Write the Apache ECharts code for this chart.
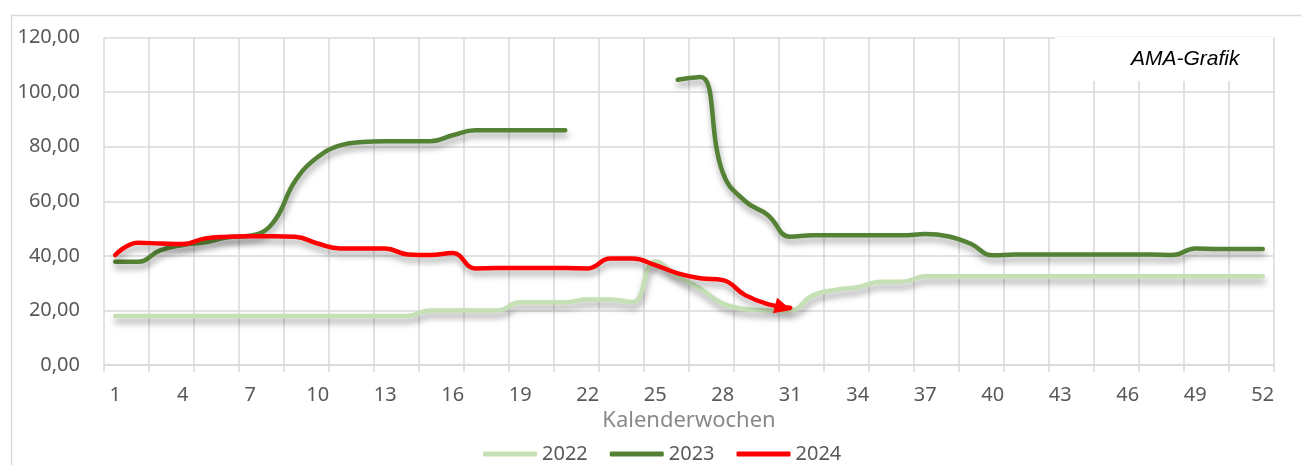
<!DOCTYPE html>
<html>
<head>
<meta charset="utf-8">
<script src="https://cdn.jsdelivr.net/npm/echarts@6/dist/echarts.min.js"></script>
<style>
    html, body { margin: 0; padding: 0; background: #fff; }
    #main { width: 1301px; height: 465px; }
</style>
</head>
<body>
<div id="main"></div>
<script>
// Kalenderwochen 1..52
let weeks = [];
for (let i = 1; i <= 52; i++) weeks.push(String(i));

let values2022 = [18, 18, 18, 18, 18, 18, 18, 18, 18, 18, 18, 18, 18, 18,
    20, 20, 20, 20, 23, 23, 23, 24, 24, 23, 38, 32.5, 28, 22.5, 20.5, 20, 20,
    25.5, 27.5, 28.5, 30.5, 30.5, 32.5, 32.5, 32.5, 32.5, 32.5, 32.5, 32.5, 32.5,
    32.5, 32.5, 32.5, 32.5, 32.5, 32.5, 32.5, 32.5];

let values2023 = [37.8, 37.8, 42, 44, 45, 46.8, 47.4, 52, 67.5, 76.2, 80.5, 81.7, 82, 82,
    82, 84.2, 86, 86, 86, 86, 86, null, null, null, null, 104.5, 105.5, 70.5, 60, 55, 47,
    47.5, 47.5, 47.5, 47.5, 47.5, 48, 47.2, 44.5, 40.2, 40.5, 40.5, 40.5, 40.5, 40.5,
    40.5, 40.5, 40.3, 42.7, 42.5, 42.5, 42.5];

let values2024 = [40.3, 44.8, 44.5, 44.3, 46.4, 47, 47.2, 47.2, 47, 44.5, 42.7, 42.7, 42.7,
    40.5, 40.3, 41, 35.4, 35.5, 35.5, 35.5, 35.5, 35.4, 39, 39, 36.6, 33.6, 31.8, 31.1,
    25.6, 22.3, 21];

let yMin = 0, yMax = 120, yStep = 20;

(function() {
    let chart = echarts.init(document.getElementById('main'));
    let labelFont = '"Noto Sans", sans-serif';
    let gridColor = '#d9d9d9';

    function lineShadow(color) {
        return {
            color: color,
            width: 4.5,
            shadowColor: 'rgba(0,0,0,0.35)',
            shadowBlur: 6,
            shadowOffsetX: 1,
            shadowOffsetY: 5,
            cap: 'round'
        };
    }

    // letzter Punkt 2024 bekommt den Pfeil
    let data2024 = values2024.map(function(v, i) {
        if (i === values2024.length - 1) {
            return {
                value: v,
                symbol: 'triangle',
                symbolSize: [16, 17],
                symbolRotate: -105,
                symbolOffset: [-7, 0],
                itemStyle: {color: '#ff0000'}
            };
        }
        return v;
    });

    let smoothness = 0.45;

    let option = {
        animation: false,
        backgroundColor: '#fff',
        grid: {left: 104, right: 27, top: 37.5, bottom: 100, containLabel: false},
        legend: {
            left: 478,
            top: 439,
            icon: 'roundRect',
            itemWidth: 54,
            itemHeight: 5,
            itemGap: 22,
            textStyle: {color: '#595959', fontSize: 20, fontFamily: labelFont},
            data: ['2022', '2023', '2024']
        },
        xAxis: {
            type: 'category',
            data: weeks,
            boundaryGap: true,
            name: 'Kalenderwochen',
            nameLocation: 'middle',
            nameGap: 45,
            nameTextStyle: {color: '#898989', fontSize: 22, fontFamily: labelFont},
            axisLine: {show: true, lineStyle: {color: gridColor, width: 1.5}},
            axisTick: {show: true, interval: 1, length: 7, lineStyle: {color: gridColor, width: 1.5}},
            axisLabel: {interval: 2, margin: 20, color: '#595959', fontSize: 20, fontFamily: labelFont},
            splitLine: {show: true, interval: 1, lineStyle: {color: gridColor, width: 1.5}}
        },
        yAxis: {
            type: 'value',
            min: yMin,
            max: yMax,
            interval: yStep,
            axisLine: {show: false},
            axisTick: {show: false},
            axisLabel: {
                margin: 24,
                color: '#595959',
                fontSize: 20,
                fontFamily: labelFont,
                formatter: function(v) { return v.toFixed(2).replace('.', ','); }
            },
            splitLine: {lineStyle: {color: gridColor, width: 1.5}}
        },
        series: [
            {
                name: '2022', type: 'line', data: values2022, smooth: smoothness,
                symbol: 'none', color: '#c5e0b4', lineStyle: lineShadow('#c5e0b4')
            },
            {
                name: '2023', type: 'line', data: values2023, smooth: smoothness, connectNulls: false,
                symbol: 'none', color: '#548235', lineStyle: lineShadow('#548235')
            },
            {
                name: '2024', type: 'line', data: data2024, smooth: smoothness,
                symbol: 'none', showSymbol: true, color: '#ff0000', lineStyle: lineShadow('#ff0000')
            }
        ],
        graphic: [
            {
                type: 'rect', left: 9, top: 13, z: 0, silent: true,
                shape: {width: 1310, height: 480},
                style: {fill: 'none', stroke: gridColor, lineWidth: 1.5}
            },
            {
                type: 'rect', left: 1055, top: 36, z: 50, silent: true,
                shape: {width: 218, height: 45},
                style: {fill: '#fff'}
            },
            {
                type: 'line', z: 51, silent: true,
                shape: {x1: 1055, y1: 36.5, x2: 1272, y2: 36.5},
                style: {stroke: '#f3f3f3', lineWidth: 1}
            },
            {
                type: 'text', z: 51, silent: true,
                left: 1131, top: 49,
                style: {
                    text: 'AMA-Grafik',
                    fill: '#000',
                    font: 'italic 21px "Liberation Sans", Arial, sans-serif'
                }
            }
        ]
    };
    chart.setOption(option);
})();
</script>
</body>
</html>
